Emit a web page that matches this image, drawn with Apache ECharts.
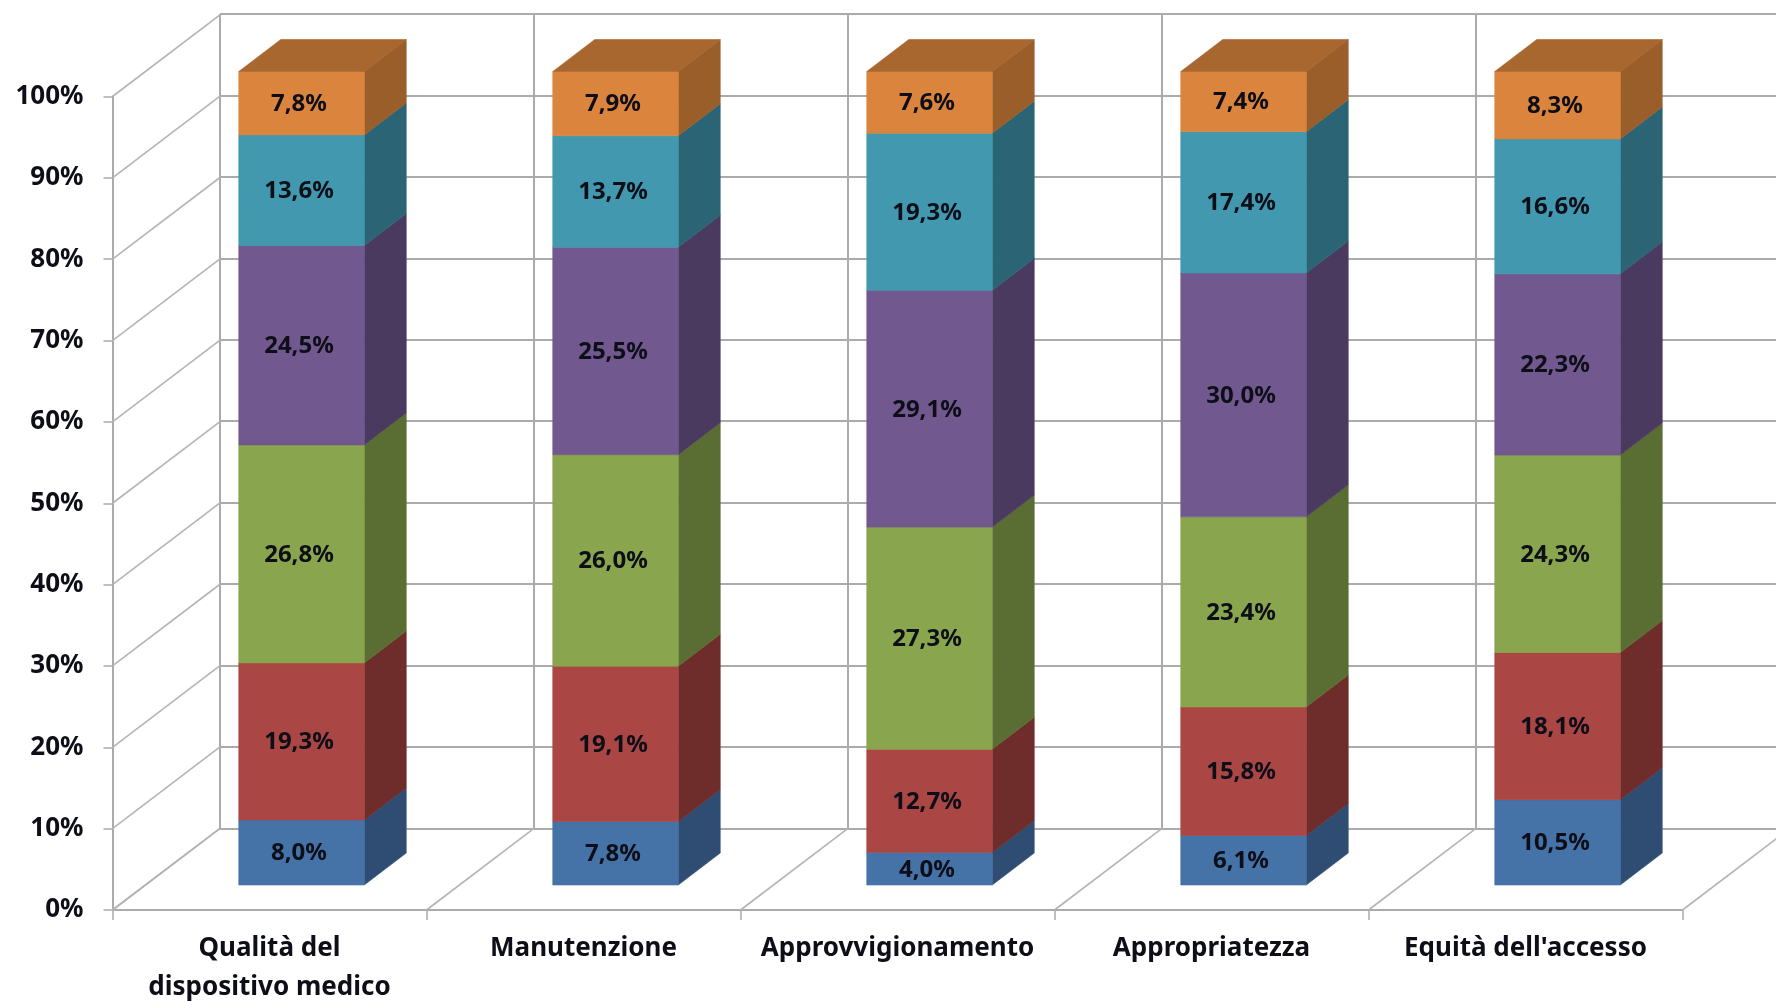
<!DOCTYPE html>
<html>
<head>
<meta charset="utf-8">
<style>html,body{margin:0;padding:0;background:#fff}#c{width:1776px;height:1001px}</style>
<script src="https://cdn.jsdelivr.net/npm/echarts@6/dist/echarts.min.js"></script>
</head>
<body>
<div id="c"></div>
<script>
const categories = ['Qualità del\ndispositivo medico', 'Manutenzione', 'Approvvigionamento', 'Appropriatezza', "Equità dell'accesso"];
const yTicks = [0, 10, 20, 30, 40, 50, 60, 70, 80, 90, 100];
const seriesA = [8.0, 7.8, 4.0, 6.1, 10.5];
const seriesB = [19.3, 19.1, 12.7, 15.8, 18.1];
const seriesC = [26.8, 26.0, 27.3, 23.4, 24.3];
const seriesD = [24.5, 25.5, 29.1, 30.0, 22.3];
const seriesE = [13.6, 13.7, 19.3, 17.4, 16.6];
const seriesF = [7.8, 7.9, 7.6, 7.4, 8.3];
const stacks = [seriesA, seriesB, seriesC, seriesD, seriesE, seriesF];
const frontColors = ['#4572A7', '#AA4643', '#89A54E', '#71588F', '#4198AF', '#DB843D'];
const sideColors = ['#2F4D73', '#6E2C2A', '#5A6E33', '#4A3A60', '#2B6474', '#9A5E2B'];
const topColor = '#A8672F';

const FONT = '"Noto Sans", sans-serif';
const GRID = '#ababab';
const WALL = { dx: 107.5, dy: -81.7 };   // depth of the side wall and floor
const BAR = { dx: 32, dy: -25, w: 125.5, depthX: 42, depthY: -32 };

function stackedRows(k) {
  return categories.map((_, i) => {
    const total = stacks.reduce((s, a) => s + a[i], 0);
    let before = 0;
    for (let j = 0; j < k; j++) before += stacks[j][i];
    return [i, before / total * 100, (before + stacks[k][i]) / total * 100, stacks[k][i]];
  });
}

const barSeries = stacks.map((_, k) => ({
  type: 'custom',
  xAxisIndex: 0, yAxisIndex: 0,
  coordinateSystem: 'cartesian2d',
  encode: { x: 0, y: [1, 2] },
  data: stackedRows(k),
  z: 5,
  silent: true,
  renderItem(params, api) {
    const lo = api.coord([api.value(0), api.value(1)]);
    const hi = api.coord([api.value(0), api.value(2)]);
    const l = lo[0] + BAR.dx - BAR.w / 2, r = l + BAR.w;
    const b = lo[1] + BAR.dy, t = hi[1] + BAR.dy;
    const dx = BAR.depthX, dy = BAR.depthY;
    const face = (pts, c) => ({ type: 'polygon', shape: { points: pts }, style: { fill: c, stroke: c, lineWidth: 0.6 } });
    const children = [
      face([[r, b], [r + dx, b + dy], [r + dx, t + dy], [r, t]], sideColors[k]),
      face([[l, b], [r, b], [r, t], [l, t]], frontColors[k])
    ];
    if (k === stacks.length - 1) {
      children.push(face([[l, t], [r, t], [r + dx, t + dy], [l + dx, t + dy]], topColor));
    }
    children.push({
      type: 'text',
      style: {
        text: api.value(3).toFixed(1).replace('.', ',') + '%',
        x: (l + r) / 2 - 2.5, y: (t + b) / 2 + 1,
        align: 'center', verticalAlign: 'middle',
        fill: '#0e0e18', font: '700 24px ' + FONT
      }
    });
    return { type: 'group', children };
  }
}));

const lineStyleDiag = { stroke: '#b4b4b4', lineWidth: 1.6 };

const option = {
  animation: false,
  backgroundColor: '#ffffff',
  grid: [
    { left: 112.5, top: 96.5, width: 1570, height: 813.5, containLabel: false, outerBoundsMode: 'none' },
    { left: 220, top: 14, width: 1570, height: 814.3, containLabel: false, outerBoundsMode: 'none' }
  ],
  xAxis: [
    {
      type: 'category', gridIndex: 0, data: categories,
      axisLine: { lineStyle: { color: GRID, width: 2 } },
      axisTick: { show: true, length: 10, alignWithLabel: false, lineStyle: { color: GRID, width: 1.5 } },
      axisLabel: { color: '#0e0e18', fontFamily: FONT, fontWeight: 700, fontSize: 26, lineHeight: 39, margin: 19, interval: 0 },
      splitLine: { show: false }
    },
    {
      type: 'category', gridIndex: 1, data: categories,
      axisLine: { lineStyle: { color: GRID, width: 2 } },
      axisTick: { show: false }, axisLabel: { show: false },
      splitLine: { show: true, interval: 0, lineStyle: { color: GRID, width: 2 } }
    }
  ],
  yAxis: [
    {
      type: 'value', gridIndex: 0, min: 0, max: 100, interval: 10,
      axisLine: { show: true, lineStyle: { color: GRID, width: 2 } },
      axisTick: { show: true, length: 9, lineStyle: { color: GRID, width: 1.5 } },
      axisLabel: { color: '#0e0e18', fontFamily: FONT, fontWeight: 700, fontSize: 26, margin: 29, padding: [2, 0, 0, 0], formatter: '{value}%' },
      splitLine: { show: false }
    },
    {
      type: 'value', gridIndex: 1, min: 0, max: 100, interval: 10,
      axisLine: { show: false }, axisTick: { show: false }, axisLabel: { show: false },
      splitLine: { show: true, lineStyle: { color: GRID, width: 2 } }
    }
  ],
  series: [
    {
      // side wall lines, one per value tick
      type: 'custom', xAxisIndex: 0, yAxisIndex: 0, silent: true, z: 2,
      data: yTicks.map(v => [0, v]),
      encode: { x: 0, y: 1 },
      renderItem(params, api) {
        const p = api.coord([0, api.value(1)]);
        const left = p[0] - api.size([1, 0])[0] / 2;
        return { type: 'line', shape: { x1: left, y1: p[1], x2: left + WALL.dx, y2: p[1] + WALL.dy }, style: lineStyleDiag };
      }
    },
    {
      // floor lines, one per category boundary
      type: 'custom', xAxisIndex: 0, yAxisIndex: 0, silent: true, z: 2,
      data: categories.map((_, i) => [i, 0]).concat([[categories.length - 1, 0]]),
      encode: { x: 0, y: 1 },
      renderItem(params, api) {
        const p = api.coord([api.value(0), 0]);
        const band = api.size([1, 0])[0];
        const x = p[0] - band / 2 + (params.dataIndex === categories.length ? band : 0);
        return { type: 'line', shape: { x1: x, y1: p[1], x2: x + WALL.dx, y2: p[1] + WALL.dy }, style: lineStyleDiag };
      }
    }
  ].concat(barSeries)
};

const chart = echarts.init(document.getElementById('c'), null, { renderer: 'canvas' });
chart.setOption(option);
</script>
</body>
</html>
